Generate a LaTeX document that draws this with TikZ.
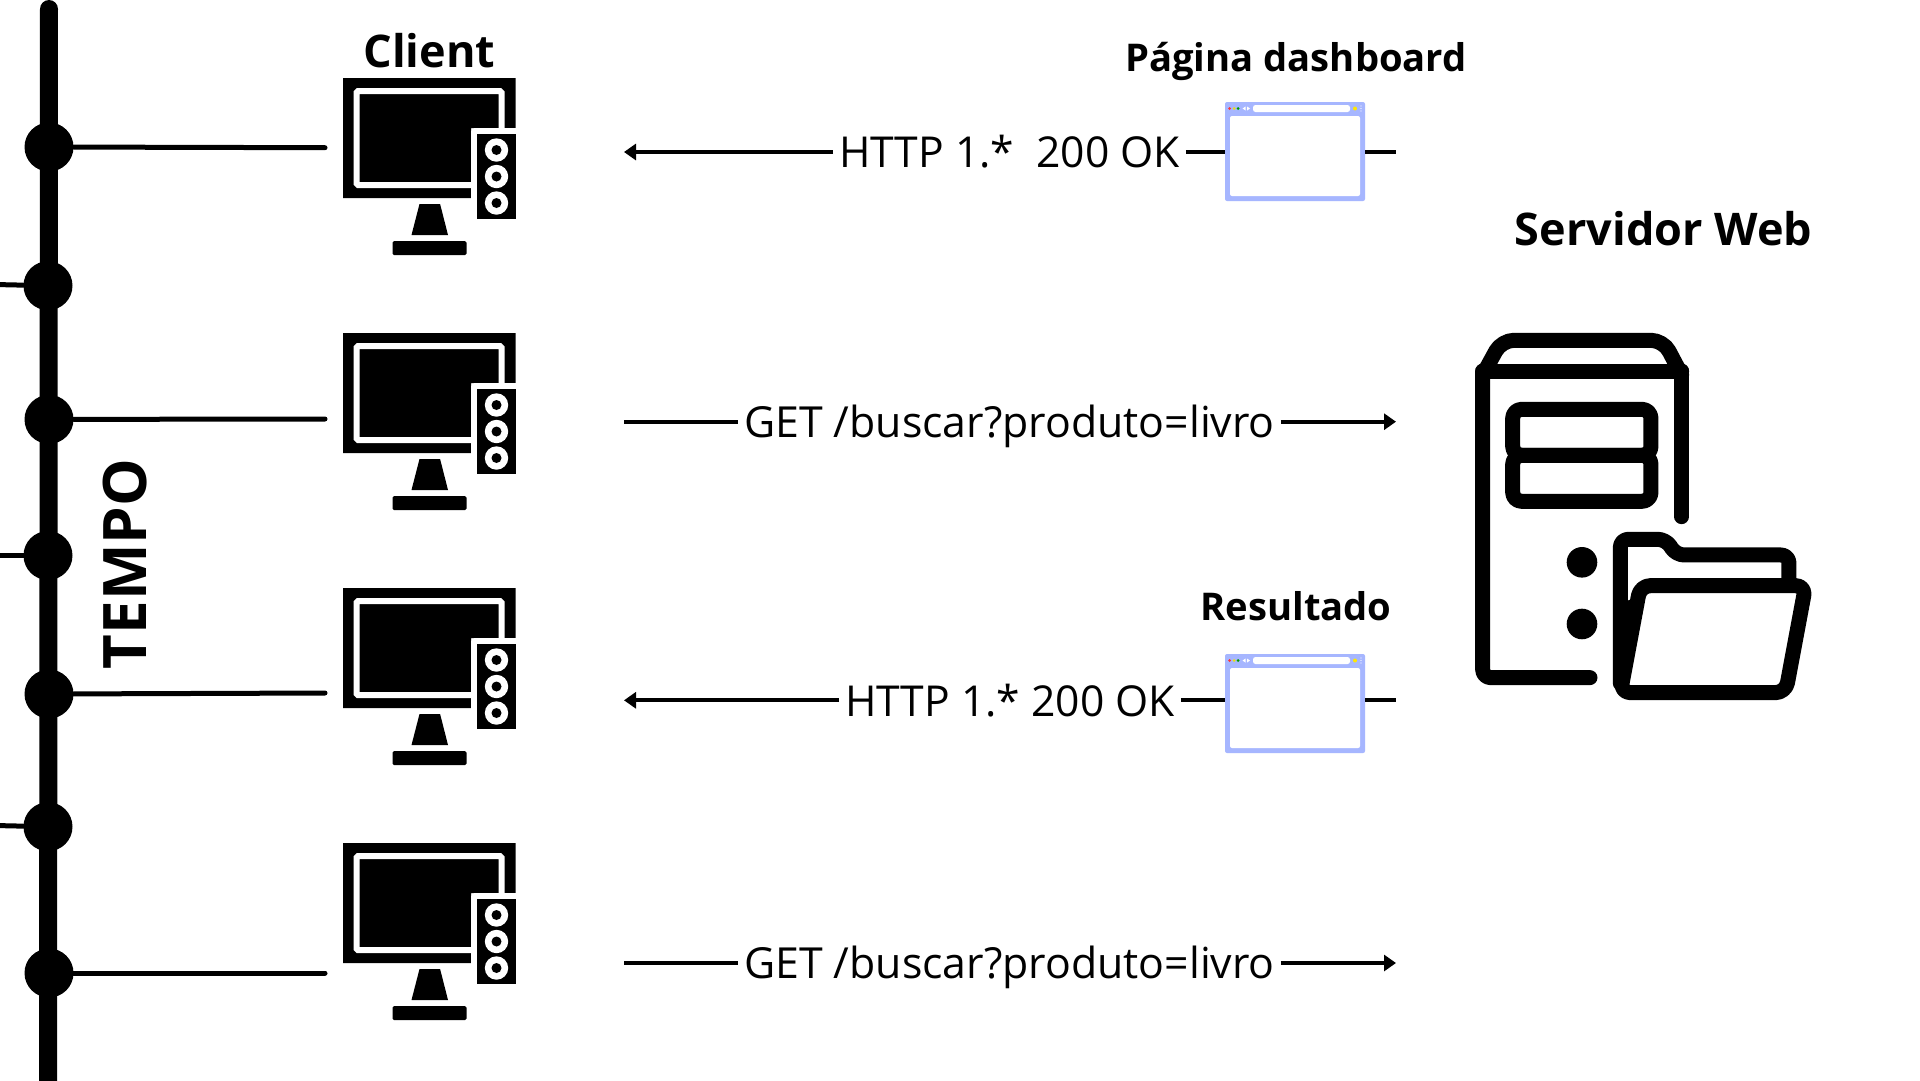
\documentclass[tikz,border=0pt]{standalone}
\usepackage{fontspec}
\setmainfont{Open Sans}
\usetikzlibrary{arrows.meta}
\definecolor{brow}{HTML}{A6B6FF}
\tikzset{
  x=1pt,y=-1pt,
  tnode/.style={circle,fill=black,inner sep=0pt,minimum size=49pt},
  tick/.style={line width=5pt,line cap=round},
  conn/.style={line width=3.8pt},
  arr/.style={conn,-{Stealth[length=12pt,width=16pt,inset=0pt]}},
  lbl/.style={inner sep=0pt,outer xsep=6pt,font=\fontsize{42.6}{50}\selectfont},
  getl/.style={inner sep=0pt,outer xsep=6pt,font=\fontsize{42.8}{50}\selectfont},
  hdr/.style={inner sep=0pt,font=\bfseries\fontsize{38.2}{44}\selectfont},
  big/.style={inner sep=0pt,font=\bfseries\fontsize{45}{52}\selectfont},
  ic/.style={line width=15pt,line cap=round,line join=round,rounded corners=8pt},
}
\newcommand{\monitorIcon}[1]{%
 \begin{scope}[xshift=-1.5pt,yshift=-#1pt]
  \fill (344.6,78) -- (517,78) -- (517,128) -- (472.5,128) -- (472.5,198) -- (344.6,198) -- cycle;
  \draw[white,line width=6pt,rounded corners=1.5pt] (503,128) -- (503,91) -- (358,91) -- (358,185) -- (475.5,185);
  \draw[white,line width=6pt,rounded corners=1.5pt] (475.5,220) -- (475.5,131) -- (518,131);
  \fill (478.5,134) rectangle (517,219);
  \foreach \cy in {150,176.5,203}{
    \fill[white] (498,\cy) circle (11.7pt);
    \fill (498,\cy) circle (5pt);
  }
  \fill (421,204) -- (441.6,204) -- (449.5,235) -- (413,235) -- cycle;
  \fill[rounded corners=1.5pt] (394,255) -- (394,241) -- (468,241) -- (468,255) -- cycle;
 \end{scope}}
\newcommand{\browserIcon}[1]{%
 \begin{scope}[yshift=-#1pt]
  \fill[brow,rounded corners=2pt] (1225,102) rectangle (1365,201);
  \fill[white,rounded corners=2pt] (1230,116) rectangle (1360,196);
  \fill[white,rounded corners=2.5pt] (1253,105) rectangle (1350,112);
  \fill[red!80!white] (1229.5,108.5) circle (1.5pt);
  \fill[yellow!90!black] (1234,108.5) circle (1.5pt);
  \fill[green!60!black] (1238,108.5) circle (1.5pt);
  \fill[white] (1242.5,108.5) -- (1245.5,106.5) -- (1245.5,110.5) -- cycle;
  \fill[white] (1250,108.5) -- (1247,106.5) -- (1247,110.5) -- cycle;
  \fill[yellow!90!orange] (1355,108.5) circle (2pt);
  \foreach \cy in {106,108.5,111}{\fill[white] (1361,\cy) circle (.7pt);}
 \end{scope}}
\begin{document}
\begin{tikzpicture}
\useasboundingbox (0,0) rectangle (1920,1080);
\fill[white] (0,0) rectangle (1920,1080);
% timeline
\coordinate (ttop) at (49,9);
\coordinate (tbot) at (48,1090);
\draw[line width=18pt,line cap=round] (ttop) -- (tbot);
\node[tnode] (d1) at (49,147) {};
\node[tnode] (d2) at (48,285.7) {};
\node[tnode] (d3) at (49,419.4) {};
\node[tnode] (d4) at (48,555.5) {};
\node[tnode] (d5) at (49,694) {};
\node[tnode] (d6) at (48,826.7) {};
\node[tnode] (d7) at (49,973) {};
\coordinate (e1) at (325,147.7);
\coordinate (e3) at (325,419);
\coordinate (e5) at (325,693);
\coordinate (e7) at (325,973);
\coordinate (s2) at (-5,284.5);
\coordinate (s4) at (-5,555.5);
\coordinate (s6) at (-5,825.5);
\draw[tick] (d1) -- (e1);
\draw[tick] (d3) -- (e3);
\draw[tick] (d5) -- (e5);
\draw[tick] (d7) -- (e7);
\draw[tick] (d2) -- (s2);
\draw[tick] (d4) -- (s4);
\draw[tick] (d6) -- (s6);
\node[inner sep=0pt,rotate=90,font=\bfseries\fontsize{60}{66}\selectfont] (tempo) at (125.5,564) {TEMPO};
% monitors
\monitorIcon{0}\monitorIcon{255}\monitorIcon{510}\monitorIcon{765}
\node[big] (client) at (429.5,51) {Client};
% browsers
\browserIcon{0}\browserIcon{552}
\node[hdr] (pag) at (1296,61) {Página dashboard};
\node[hdr] (res) at (1296,606) {Resultado};
\node[big] (srv) at (1663.5,229) {Servidor Web};
% labels
\node[lbl] (h1) at (1009.5,151.5) {HTTP 1.*\ \ 200 OK};
\node[getl] (g1) at (1009.5,426) {GET /buscar?produto=livro};
\node[lbl] (h2) at (1010,700.3) {HTTP 1.* 200 OK};
\node[getl] (g2) at (1009.5,967) {GET /buscar?produto=livro};
\coordinate (a1) at (624,152);
\coordinate (b1) at (1225,152);
\coordinate (b1r) at (1365,152);
\coordinate (c1) at (1396,152);
\draw[arr] (a1 -| h1.west) -- (a1);
\draw[conn] (b1 -| h1.east) -- (b1);
\draw[conn] (b1r) -- (c1);
\coordinate (a2) at (624,421.7);
\coordinate (c2) at (1396,421.7);
\draw[conn] (a2) -- (a2 -| g1.west);
\draw[arr] (c2 -| g1.east) -- (c2);
\coordinate (a3) at (624,700.3);
\coordinate (b3) at (1225,700.3);
\coordinate (b3r) at (1365,700.3);
\coordinate (c3) at (1396,700.3);
\draw[arr] (a3 -| h2.west) -- (a3);
\draw[conn] (b3 -| h2.east) -- (b3);
\draw[conn] (b3r) -- (c3);
\coordinate (a4) at (624,963);
\coordinate (c4) at (1396,963);
\draw[conn] (a4) -- (a4 -| g2.west);
\draw[arr] (c4 -| g2.east) -- (c4);
% server icon
\begin{scope}[shift={(1460,310)},x=0.3333pt,y=-0.3333pt]
 \draw[ic] (390,1103) -- (68,1103) -- (68,183);
 \draw[ic] (665,183) -- (665,620);
 \draw[ic,rounded corners=12pt] (68,195) -- (125,91) -- (610,91) -- (665,195);
 \draw[ic,rounded corners=1pt] (68,183) -- (665,183);
 \draw[ic,rounded corners=9pt] (158,436) -- (158,298) -- (573,298) -- (573,436) -- cycle;
 \draw[ic,rounded corners=9pt] (158,436) -- (573,436) -- (573,574) -- (158,574) -- cycle;
 \fill (366,757) circle (15.3pt);
 \fill (366,942) circle (15.3pt);
 \draw[ic] (481,1120) -- (481,688) -- (618,688) -- (648,735) -- (987,735) -- (987,820);
 \fill (481,1125) -- (481,880) -- (535,860) -- (505,1125) -- cycle;
 \draw[ic,rounded corners=10pt] (700,1148) -- (481,1148) -- (541,827) -- (1037,827) -- (977,1148) -- cycle;
\end{scope}
\end{tikzpicture}
\end{document}
